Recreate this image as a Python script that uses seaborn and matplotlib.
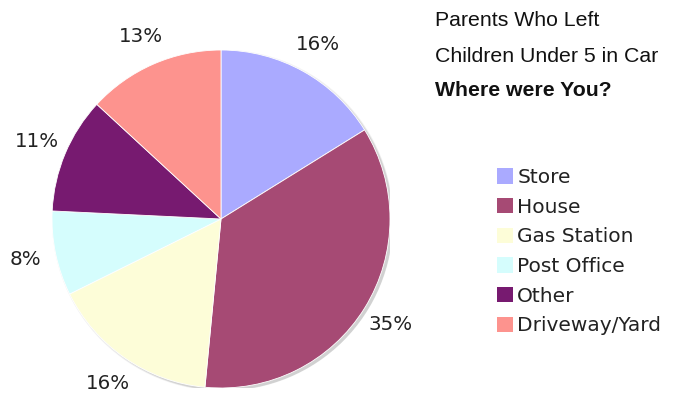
import matplotlib
matplotlib.use("Agg")
import matplotlib.pyplot as plt
from matplotlib.patches import Patch, Circle
import seaborn as sns

locations = ["Store", "House", "Gas Station", "Post Office", "Other", "Driveway/Yard"]
shares = [16, 35, 16, 8, 11, 13]
colors = ["#AAAAFF", "#A64A74", "#FDFDD8", "#D5FDFD", "#771A70", "#FD938E"]
title_lines = ["Parents Who Left", "Children Under 5 in Car"]
title_bold = "Where were You?"

sns.set_theme(style="white")
palette = sns.color_palette(colors)

W, H = 674, 393
fig = plt.figure(figsize=(W / 100, H / 100), dpi=100)
fig.patch.set_facecolor("white")

cx, cy, r = 221, 219, 169
ax = fig.add_axes([(cx - r) / W, 1 - (cy + r) / H, 2 * r / W, 2 * r / H])
ax.set_xlim(-1, 1)
ax.set_ylim(-1, 1)
ax.set_aspect("equal")
ax.axis("off")

# soft drop shadow behind the pie
for i, a in enumerate([0.05, 0.06, 0.08]):
    ax.add_patch(Circle((0.010 + 0.003 * i, -0.008 - 0.003 * i), 1.0 + 0.005 * (2 - i),
                        color="black", alpha=a, lw=0, zorder=0))

wedges, texts, autotexts = ax.pie(
    shares, colors=palette, startangle=90, counterclock=False, radius=1.0,
    autopct=lambda p: f"{p:.0f}%", pctdistance=1.18,
    wedgeprops=dict(edgecolor="white", linewidth=0.6),
    textprops=dict(fontsize=14.3, color="#222222", family="DejaVu Sans"),
)
for w in wedges:
    w.set_zorder(2)
for t, v in zip(autotexts, shares):
    t.set_text(f"{v}%")
ax.set_xlim(-1, 1)
ax.set_ylim(-1, 1)

# title block
fig.text(435 / W, 1 - 20 / H, title_lines[0], fontsize=15.3, family="Liberation Sans",
         va="center", ha="left", color="#111111")
fig.text(435 / W, 1 - 56 / H, title_lines[1], fontsize=15.3, family="Liberation Sans",
         va="center", ha="left", color="#111111")
fig.text(435 / W, 1 - 90 / H, title_bold, fontsize=15.3, family="Liberation Sans",
         weight="bold", va="center", ha="left", color="#111111")

handles = [Patch(facecolor=c, edgecolor="none") for c in palette]
leg = fig.legend(handles, locations, loc="upper left",
                 bbox_to_anchor=(497 / W, 1 - 168 / H), frameon=False,
                 prop=dict(family="DejaVu Sans", size=14.5),
                 handlelength=0.8, handleheight=0.8, handletextpad=0.2,
                 labelspacing=0.53, borderpad=0, borderaxespad=0)
for t in leg.get_texts():
    t.set_color("#222222")

fig.savefig("out.png", dpi=100, facecolor="white")
